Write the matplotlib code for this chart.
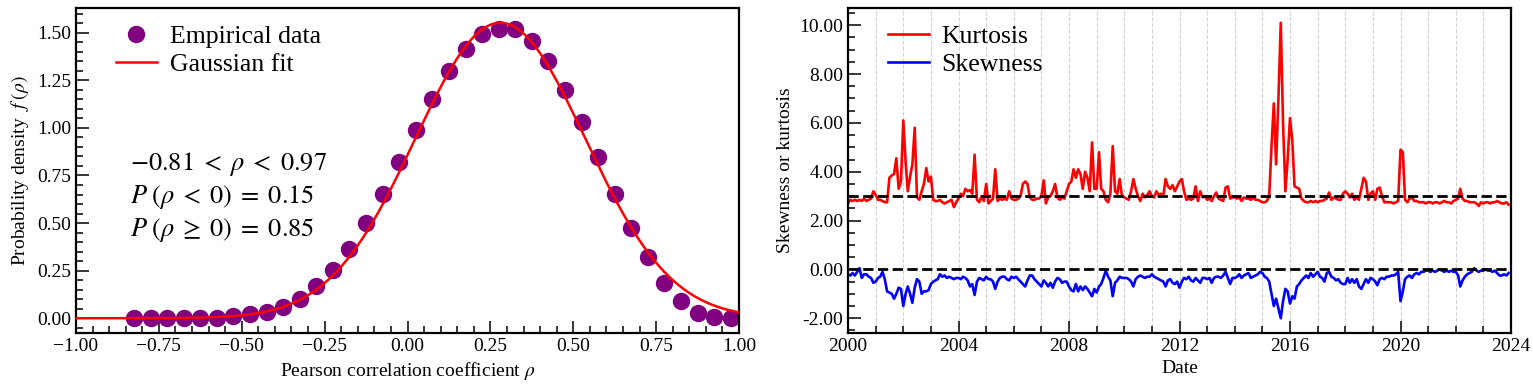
# coding: utf-8
import numpy as np
import pandas as pd
import matplotlib
matplotlib.use('Agg')
import matplotlib.pyplot as plt
import matplotlib.dates as mdates
from matplotlib.ticker import MultipleLocator, FuncFormatter

plt.rcParams['font.family'] = ['Liberation Serif', 'DejaVu Serif']
plt.rcParams['mathtext.fontset'] = 'stix'

#%%
# Histograma empirico de rho (centros de bin y densidad)
rho_centers = [-0.825, -0.775, -0.725, -0.675, -0.625, -0.575, -0.525, -0.475,
               -0.425, -0.375, -0.325, -0.275, -0.225, -0.175, -0.125, -0.075,
               -0.025, 0.025, 0.075, 0.125, 0.175, 0.225, 0.275, 0.325, 0.375,
               0.425, 0.475, 0.525, 0.575, 0.625, 0.675, 0.725, 0.775, 0.825,
               0.875, 0.925, 0.975]
rho_density = [0.0, 0.0, 0.0, 0.0, 0.0, 0.002, 0.01, 0.02, 0.035, 0.06, 0.10,
               0.17, 0.255, 0.365, 0.50, 0.655, 0.82, 0.99, 1.15, 1.30, 1.415,
               1.495, 1.52, 1.52, 1.455, 1.35, 1.20, 1.03, 0.845, 0.655, 0.475,
               0.32, 0.185, 0.09, 0.03, 0.005, 0.0]

# Parametros del ajuste gaussiano
fit_mu = 0.28
fit_sigma = 0.257

# Texto con los resultados
stats_lines = [r'$-0.81 \;<\; \rho \;<\; 0.97$',
               r'$P\;(\rho \;<\; 0) \;=\; 0.15$',
               r'$P\;(\rho \;\geq\; 0) \;=\; 0.85$']

#%%
# Series mensuales de curtosis y asimetria (ene 2000 - dic 2023)
start_month = '2000-01-01'
kurtosis = [
    2.7, 2.85, 2.8, 2.85, 2.8, 2.85, 2.8, 2.9, 2.8, 2.85, 2.9, 3.2,        # 2000
    3.05, 2.85, 2.85, 2.8, 2.75, 2.75, 3.75, 3.85, 3.9, 4.55, 3.3, 3.6,   # 2001
    6.1, 4.4, 3.2, 3.8, 4.3, 5.8, 2.95, 2.85, 3.2, 3.5, 4.15, 3.6,        # 2002
    3.8, 2.85, 2.8, 2.8, 2.85, 2.75, 2.7, 2.75, 2.8, 2.85, 2.55, 2.75,    # 2003
    2.9, 3.1, 3.0, 3.3, 3.2, 3.25, 3.1, 4.7, 2.85, 2.75, 3.0, 2.8,        # 2004
    3.5, 2.7, 2.8, 2.9, 4.1, 2.8, 2.9, 2.85, 2.9, 2.85, 3.2, 2.9,         # 2005
    2.85, 2.85, 2.9, 3.0, 3.5, 3.6, 3.5, 2.95, 2.85, 2.85, 2.9, 2.9,      # 2006
    3.0, 3.65, 2.7, 2.95, 3.0, 3.2, 3.5, 2.95, 2.85, 2.95, 2.9, 3.2,      # 2007
    3.5, 3.6, 4.1, 3.75, 4.1, 3.9, 3.3, 4.0, 3.75, 3.2, 5.2, 3.3,         # 2008
    3.3, 4.8, 3.3, 3.2, 2.85, 2.75, 3.1, 5.05, 3.2, 3.1, 3.7, 3.0,        # 2009
    2.95, 2.9, 2.85, 3.2, 3.7, 3.3, 3.0, 2.8, 3.1, 2.95, 3.05, 3.2,       # 2010
    3.0, 2.95, 3.2, 3.05, 3.1, 3.0, 3.7, 3.4, 3.3, 3.45, 3.2, 3.4,        # 2011
    3.6, 3.7, 3.2, 2.85, 2.9, 2.85, 2.9, 3.4, 2.8, 3.2, 2.95, 3.0,        # 2012
    2.85, 2.9, 2.8, 3.0, 3.15, 2.9, 2.85, 2.8, 3.35, 3.4, 2.9, 2.95,      # 2013
    2.95, 2.9, 2.95, 2.8, 2.95, 2.9, 2.9, 2.85, 2.95, 2.85, 2.85, 2.8,    # 2014
    2.75, 2.75, 2.8, 3.0, 5.0, 6.8, 4.3, 7.0, 10.1, 6.0, 3.2, 4.5,        # 2015
    6.2, 5.25, 3.4, 3.35, 3.3, 2.9, 2.8, 2.75, 2.75, 2.8, 2.75, 2.8,      # 2016
    2.75, 2.8, 2.8, 2.85, 2.9, 3.15, 2.85, 2.95, 2.9, 2.85, 2.85, 3.1,    # 2017
    3.2, 3.1, 2.95, 3.1, 2.85, 2.95, 2.85, 3.3, 3.75, 3.6, 2.85, 3.1,     # 2018
    3.2, 2.85, 3.3, 3.35, 3.0, 2.75, 2.75, 2.75, 2.75, 2.7, 2.75, 2.8,    # 2019
    4.9, 4.8, 2.85, 2.75, 2.9, 2.95, 2.8, 2.8, 2.75, 2.75, 2.75, 2.7,     # 2020
    2.75, 2.75, 2.7, 2.75, 2.75, 2.7, 2.75, 2.8, 2.75, 2.75, 2.7, 2.8,    # 2021
    2.85, 2.9, 3.3, 2.9, 2.8, 2.8, 2.75, 2.75, 2.75, 2.7, 2.6, 2.75,      # 2022
    2.7, 2.75, 2.75, 2.7, 2.75, 2.75, 2.8, 2.75, 2.7, 2.7, 2.75, 2.65,    # 2023
]
skewness = [
    -0.2, -0.25, -0.15, -0.25, -0.1, 0.05, -0.35, -0.2, -0.2, -0.3, -0.35, -0.55,   # 2000
    -0.5, -0.35, -0.3, -0.1, -0.4, -0.9, -0.95, -1.0, -1.2, -1.0, -0.75, -0.8,      # 2001
    -1.5, -1.0, -0.7, -1.0, -1.37, -0.75, -0.4, -0.5, -1.0, -0.9, -0.9, -0.85,      # 2002
    -0.6, -0.5, -0.45, -0.4, -0.2, -0.3, -0.25, -0.35, -0.3, -0.35, -0.4, -0.35,    # 2003
    -0.35, -0.4, -0.3, -0.35, -0.45, -0.7, -0.6, -1.05, -0.5, -0.35, -0.4, -0.45,   # 2004
    -0.3, -0.4, -0.4, -0.5, -0.8, -0.5, -0.35, -0.3, -0.3, -0.4, -0.45, -0.3,       # 2005
    -0.35, -0.3, -0.4, -0.5, -0.6, -0.7, -0.45, -0.25, -0.25, -0.4, -0.5, -0.6,     # 2006
    -0.7, -0.45, -0.55, -0.7, -0.55, -0.75, -0.5, -0.35, -0.4, -0.55, -0.5, -0.5,   # 2007
    -0.7, -0.85, -0.9, -0.6, -0.9, -0.7, -0.85, -0.7, -0.8, -0.95, -1.1, -0.8,      # 2008
    -0.95, -0.7, -0.6, -0.35, -0.05, -0.3, -0.45, -1.1, -0.55, -0.45, -0.3, -0.35,  # 2009
    -0.35, -0.35, -0.4, -0.5, -0.7, -0.4, -0.3, -0.25, -0.3, -0.35, -0.3, -0.3,     # 2010
    -0.2, -0.3, -0.35, -0.4, -0.45, -0.5, -0.7, -0.45, -0.4, -0.55, -0.6, -0.5,     # 2011
    -0.75, -0.5, -0.35, -0.4, -0.3, -0.45, -0.5, -0.35, -0.45, -0.55, -0.35, -0.35, # 2012
    -0.4, -0.35, -0.55, -0.35, -0.3, -0.3, -0.35, -0.25, -0.1, -0.35, -0.6, -0.35,  # 2013
    -0.35, -0.3, -0.2, -0.35, -0.25, -0.2, -0.15, -0.35, -0.3, -0.25, -0.2, -0.1,   # 2014
    -0.15, -0.3, -0.35, -0.5, -1.0, -1.5, -1.2, -1.6, -2.0, -1.3, -0.8, -0.9,       # 2015
    -1.4, -1.1, -1.2, -0.7, -0.6, -0.45, -0.35, -0.25, -0.35, -0.15, -0.3, -0.2,    # 2016
    -0.1, -0.3, -0.35, -0.5, -0.15, -0.1, -0.3, -0.35, -0.45, -0.4, -0.55, -0.6,    # 2017
    -0.6, -0.35, -0.55, -0.4, -0.55, -0.4, -0.7, -0.8, -0.6, -0.4, -0.55, -0.35,    # 2018
    -0.4, -0.5, -0.65, -0.4, -0.35, -0.4, -0.3, -0.3, -0.25, -0.25, -0.2, -0.1,     # 2019
    -1.3, -0.9, -0.4, -0.3, -0.25, -0.35, -0.2, -0.15, -0.2, -0.1, -0.1, -0.05,     # 2020
    -0.05, -0.1, -0.05, -0.1, -0.05, 0.0, -0.05, -0.1, -0.05, -0.1, -0.05, -0.1,    # 2021
    -0.1, -0.25, -0.7, -0.45, -0.3, -0.2, -0.15, -0.1, 0.05, -0.05, -0.1, -0.05,    # 2022
    -0.05, 0.0, -0.05, -0.05, -0.1, -0.05, -0.15, -0.25, -0.25, -0.2, -0.25, -0.15, # 2023
]
dates = pd.date_range(start_month, periods=len(kurtosis), freq='MS')

#%%
fig = plt.figure(figsize=(15.33, 3.84), dpi=100)
ax1 = fig.add_axes([76/1533, 51/384, 663/1533, 325/384])
ax2 = fig.add_axes([848/1533, 51/384, 663/1533, 325/384])

def estilo(ax):
    for s in ax.spines.values():
        s.set_linewidth(1.6)
    ax.tick_params(which='both', direction='in', labelsize=14, width=1.1)
    ax.tick_params(which='major', length=9)
    ax.tick_params(which='minor', length=5)

# Panel izquierdo: densidad de rho
xfit = np.linspace(-1, 1, 400)
yfit = np.exp(-(xfit - fit_mu)**2/(2*fit_sigma**2))/(fit_sigma*np.sqrt(2*np.pi))
ax1.plot(rho_centers, rho_density, 'o', color='purple', markersize=11.5,
         label='Empirical data', zorder=2)
ax1.plot(xfit, yfit, '-', color='red', lw=1.8, label='Gaussian fit', zorder=3)
ax1.set_xlim(-1, 1)
ax1.xaxis.set_major_locator(MultipleLocator(0.25))
ax1.xaxis.set_minor_locator(MultipleLocator(0.05))
ax1.yaxis.set_major_locator(MultipleLocator(0.25))
ax1.yaxis.set_minor_locator(MultipleLocator(0.05))
fmt_menos = FuncFormatter(lambda v, p: '{:.2f}'.format(v).replace('-', '\u2212'))
ax1.xaxis.set_major_formatter(fmt_menos)
ax1.yaxis.set_major_formatter(fmt_menos)
ax1.set_xlabel(r'Pearson correlation coefficient $\rho$', fontsize=14)
ax1.set_ylabel(r'Probability density $\ f\;(\rho)$', fontsize=14)
estilo(ax1)
ax1.legend(loc='upper left', bbox_to_anchor=(0.025, 1.018), frameon=False,
           fontsize=18.5, handlelength=1.6, handletextpad=0.5, labelspacing=0.2)
for i, linea in enumerate(stats_lines):
    ax1.text(0.082, 0.52 - i*0.102, linea, transform=ax1.transAxes,
             fontsize=19, va='center', ha='left')

# Panel derecho: curtosis y asimetria
ax2.plot(dates, kurtosis, color='red', lw=1.9, label='Kurtosis')
ax2.plot(dates, skewness, color='blue', lw=1.9, label='Skewness')
ax2.axhline(3, color='k', ls='--', lw=2)
ax2.axhline(0, color='k', ls='--', lw=2)
ax2.set_xlim(pd.Timestamp('2000-01-01'), pd.Timestamp('2024-01-01'))
ax2.xaxis.set_major_locator(mdates.YearLocator(4))
ax2.xaxis.set_minor_locator(mdates.YearLocator(1))
ax2.xaxis.set_major_formatter(mdates.DateFormatter('%Y'))
ax2.yaxis.set_major_locator(MultipleLocator(2))
ax2.yaxis.set_minor_locator(MultipleLocator(0.5))
ax2.yaxis.set_major_formatter(FuncFormatter(lambda v, p: '%.2f' % v))
ax2.grid(axis='x', which='both', ls='--', color='lightgray', lw=0.8)
ax2.set_axisbelow(True)
ax2.set_xlabel('Date', fontsize=14)
ax2.set_ylabel('Skewness or kurtosis', fontsize=14)
estilo(ax2)
ax2.legend(loc='upper left', bbox_to_anchor=(0.025, 1.018), frameon=False,
           fontsize=18.5, handlelength=1.6, handletextpad=0.5, labelspacing=0.2)

plt.savefig('out.png', dpi=100)
plt.close()
